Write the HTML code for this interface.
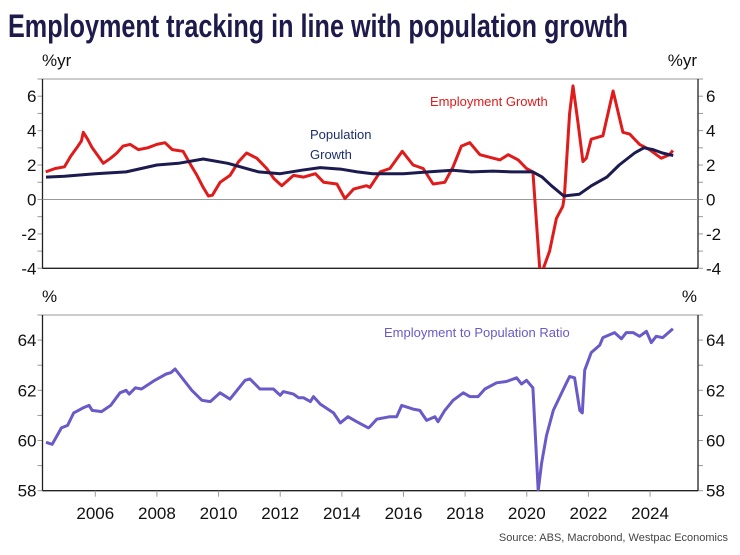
<!DOCTYPE html>
<html><head><meta charset="utf-8"><style>
html,body{margin:0;padding:0;background:#fff}
svg{display:block}
text{font-family:"Liberation Sans",sans-serif}
</style></head><body>
<svg id="chart" width="740" height="555" viewBox="0 0 740 555" xmlns="http://www.w3.org/2000/svg">
<text x="8" y="37" font-size="32" font-weight="bold" fill="#1e1b4b" textLength="620" lengthAdjust="spacingAndGlyphs" style="font-family:'Liberation Sans Narrow','Liberation Sans',sans-serif">Employment tracking in line with population growth</text>
<g id="g"></g>
<text x="728" y="541" font-size="11" fill="#444" text-anchor="end">Source: ABS, Macrobond, Westpac Economics</text>
</svg>
<script>
const empYears=[2004.39,2004.7,2005.0,2005.2,2005.4,2005.55,2005.61,2005.75,2005.9,2006.1,2006.26,2006.5,2006.7,2006.9,2007.13,2007.4,2007.7,2008.0,2008.26,2008.5,2008.85,2009.1,2009.3,2009.5,2009.67,2009.8,2010.05,2010.37,2010.65,2010.91,2011.24,2011.56,2011.8,2012.05,2012.43,2012.76,2013.14,2013.41,2013.84,2014.1,2014.38,2014.8,2014.91,2015.24,2015.56,2015.96,2016.31,2016.64,2016.96,2017.34,2017.61,2017.88,2018.15,2018.48,2018.91,2019.13,2019.4,2019.72,2019.99,2020.2,2020.44,2020.74,2020.96,2021.17,2021.22,2021.39,2021.5,2021.66,2021.82,2021.93,2022.09,2022.47,2022.8,2023.12,2023.34,2023.66,2023.98,2024.36,2024.63,2024.74];
const empValues=[1.6,1.8,1.9,2.5,3.0,3.4,3.9,3.5,3.0,2.5,2.1,2.4,2.7,3.1,3.2,2.9,3.0,3.2,3.3,2.9,2.8,2.0,1.4,0.7,0.2,0.25,1.0,1.4,2.2,2.7,2.4,1.8,1.2,0.8,1.4,1.3,1.5,1.0,0.9,0.05,0.6,0.8,0.7,1.6,1.8,2.8,2.0,1.8,0.9,1.0,1.9,3.1,3.3,2.6,2.4,2.3,2.6,2.3,1.8,1.6,-4.5,-3.0,-1.1,-0.4,0.2,5.0,6.6,4.5,2.2,2.4,3.5,3.7,6.3,3.9,3.8,3.2,2.9,2.4,2.6,2.85];
const popYears=[2004.4,2005.0,2006.0,2007.0,2008.0,2008.7,2009.5,2010.3,2011.3,2012.0,2012.7,2013.3,2014.0,2014.5,2015.0,2016.0,2016.8,2017.6,2018.2,2018.9,2019.5,2020.2,2020.5,2020.8,2021.2,2021.7,2022.1,2022.6,2023.0,2023.5,2023.8,2024.1,2024.4,2024.75];
const popValues=[1.3,1.35,1.5,1.6,2.0,2.1,2.35,2.1,1.6,1.5,1.7,1.85,1.75,1.6,1.5,1.5,1.6,1.7,1.6,1.65,1.6,1.6,1.3,0.8,0.2,0.3,0.8,1.3,2.0,2.7,3.0,2.9,2.7,2.55];
const ratioYears=[2004.4,2004.6,2004.9,2005.1,2005.3,2005.6,2005.8,2005.9,2006.2,2006.5,2006.8,2007.0,2007.1,2007.3,2007.5,2007.93,2008.3,2008.45,2008.59,2009.13,2009.46,2009.73,2010.05,2010.37,2010.86,2011.02,2011.34,2011.78,2012.0,2012.1,2012.43,2012.6,2012.76,2012.98,2013.08,2013.3,2013.73,2013.95,2014.2,2014.48,2014.86,2014.91,2015.13,2015.56,2015.78,2015.94,2016.31,2016.53,2016.75,2017.02,2017.12,2017.34,2017.61,2017.94,2018.15,2018.42,2018.64,2019.02,2019.34,2019.67,2019.83,2019.99,2020.2,2020.37,2020.48,2020.64,2020.86,2021.23,2021.39,2021.55,2021.72,2021.8,2021.88,2022.09,2022.37,2022.47,2022.85,2023.07,2023.23,2023.45,2023.66,2023.88,2024.04,2024.2,2024.41,2024.74];
const ratioValues=[59.93,59.85,60.5,60.6,61.1,61.3,61.4,61.2,61.15,61.4,61.9,62.0,61.85,62.1,62.05,62.4,62.65,62.7,62.85,62.0,61.6,61.55,61.9,61.65,62.4,62.45,62.05,62.05,61.8,61.95,61.85,61.7,61.7,61.55,61.75,61.45,61.1,60.7,60.95,60.75,60.5,60.55,60.85,60.95,60.95,61.4,61.25,61.2,60.8,60.95,60.75,61.2,61.6,61.9,61.75,61.75,62.05,62.3,62.35,62.5,62.25,62.4,62.1,58.0,59.1,60.2,61.2,62.15,62.55,62.5,61.2,61.1,62.8,63.5,63.8,64.1,64.3,64.05,64.3,64.3,64.15,64.35,63.9,64.15,64.1,64.45];
const topTicks=[-4,-2,0,2,4,6];
const botTicks=[58,60,62,64];
const yearTicks=[2006,2008,2010,2012,2014,2016,2018,2020,2022,2024];

const NS="http://www.w3.org/2000/svg";
const G=document.getElementById('g');
const L=42.5,R=698;
const x=yr=>95.3+(yr-2006)*30.82;
const T={top:79,bot:268.3,min:-4,max:7};
const B={top:315,bot:490.7,min:58,max:65};
const yT=v=>T.bot-(v-T.min)/(T.max-T.min)*(T.bot-T.top);
const yB=v=>B.bot-(v-B.min)/(B.max-B.min)*(B.bot-B.top);
function mk(tag,at,txt){const e=document.createElementNS(NS,tag);for(const k in at)e.setAttribute(k,at[k]);if(txt!==undefined)e.textContent=txt;G.appendChild(e);return e;}

// clip paths
const defs=mk('defs',{});
defs.innerHTML='<clipPath id="cT"><rect x="'+L+'" y="'+T.top+'" width="'+(R-L)+'" height="'+(T.bot-T.top)+'"/></clipPath><clipPath id="cB"><rect x="'+L+'" y="'+B.top+'" width="'+(R-L)+'" height="'+(B.bot-B.top)+'"/></clipPath>';

function panel(P,yf,ticks,name,unit){
  let e;
  e=mk('line',{x1:L,x2:R,y1:P.top,y2:P.top,stroke:'#999','stroke-width':1});
  
  for(let v=P.min;v<=P.max;v++){
    e=mk('line',{x1:L-5,x2:L,y1:yf(v),y2:yf(v),stroke:'#999','stroke-width':1});
    
    e=mk('line',{x1:R,x2:R+5,y1:yf(v),y2:yf(v),stroke:'#999','stroke-width':1});
    
  }
  ticks.forEach(v=>{
    e=mk('text',{x:L-6,y:yf(v)+6,'font-size':17,'text-anchor':'end',fill:'#111'},String(v));
    
    e=mk('text',{x:R+8,y:yf(v)+6,'font-size':17,'text-anchor':'start',fill:'#111'},String(v));
    
  });
  e=mk('line',{x1:L,x2:L,y1:P.top,y2:P.bot,stroke:'#222','stroke-width':1.3});
  
  e=mk('line',{x1:R,x2:R,y1:P.top,y2:P.bot,stroke:'#222','stroke-width':1.3});
  
  e=mk('line',{x1:L,x2:R,y1:P.bot,y2:P.bot,stroke:'#222','stroke-width':1.3});
  
  e=mk('text',{x:42,y:P.top-13,'font-size':17,fill:'#111'},unit);
  
  e=mk('text',{x:697,y:P.top-13,'font-size':17,fill:'#111','text-anchor':'end'},unit);
  
}
panel(T,yT,topTicks,'top-panel','%yr');
panel(B,yB,botTicks,'bottom-panel','%');

let z=mk('line',{x1:L,x2:R,y1:yT(0),y2:yT(0),stroke:'#999','stroke-width':1});


yearTicks.forEach(yr=>{
  let e=mk('line',{x1:x(yr),x2:x(yr),y1:B.bot,y2:B.bot+6,stroke:'#999','stroke-width':1});
  
  e=mk('text',{x:x(yr),y:519,'font-size':17,'text-anchor':'middle',fill:'#111'},String(yr));
  
});

function line(xs,vs,yf,col,clip,name){
  const d=xs.map((a,i)=>(i?'L':'M')+x(a).toFixed(1)+','+yf(vs[i]).toFixed(1)).join('');
  const e=mk('path',{d:d,fill:'none',stroke:col,'stroke-width':3,'stroke-linejoin':'round','clip-path':'url(#'+clip+')'});
  
}
line(empYears,empValues,yT,'#e01b1b','cT','employment-growth-line');
line(popYears,popValues,yT,'#1c1b4f','cT','population-growth-line');
line(ratioYears,ratioValues,yB,'#6a5ac8','cB','employment-population-ratio-line');

let t=mk('text',{x:430,y:106,'font-size':13,fill:'#e01b1b'},'Employment Growth');

t=mk('text',{x:310,y:139,'font-size':13,fill:'#1c2f6b'},'Population');

t=mk('text',{x:310,y:159,'font-size':13,fill:'#1c2f6b'},'Growth');

t=mk('text',{x:384,y:337,'font-size':13,fill:'#6a5ac8'},'Employment to Population Ratio');

</script>
</body></html>
